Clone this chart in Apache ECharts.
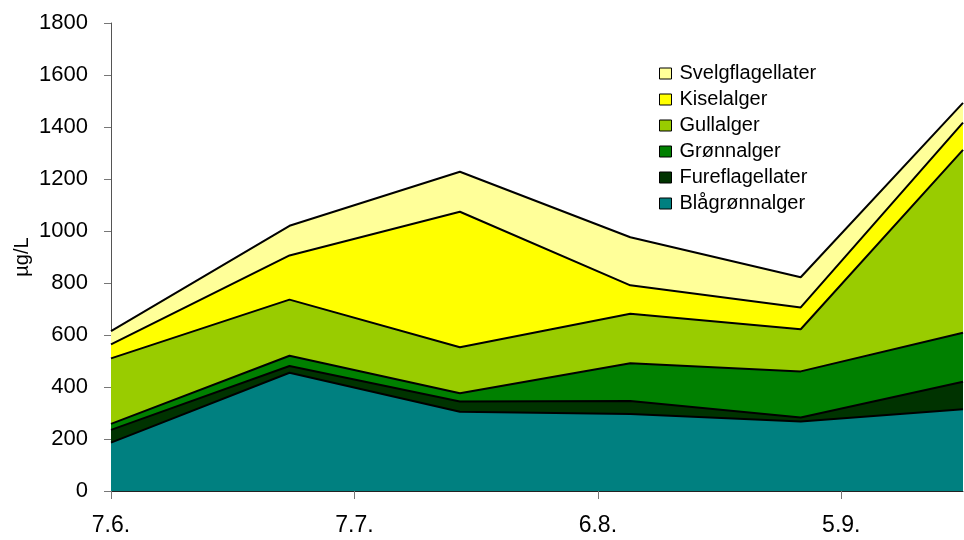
<!DOCTYPE html>
<html>
<head>
<meta charset="utf-8">
<script src="https://cdn.jsdelivr.net/npm/echarts@6/dist/echarts.min.js"></script>
<style>
html,body{margin:0;padding:0;background:#fff;}
#chart{width:964px;height:540px;}
</style>
</head>
<body>
<div id="chart"></div>
<script>
// Days since 7.6. for each sampling date
const dayOffsets = [0, 22, 43, 64, 85, 105];
const xTickValues = [0, 30, 60, 90];
const xTickLabels = ['7.6.', '7.7.', '6.8.', '5.9.'];

const seriesNames = ['Blågrønnalger', 'Fureflagellater', 'Grønnalger', 'Gullalger', 'Kiselalger', 'Svelgflagellater'];
const blaagronnalger   = [186, 455, 305, 296, 267, 314];
const fureflagellater  = [49, 26, 39, 50, 16, 106];
const gronnalger       = [23, 39, 32, 145, 177, 189];
const gullalger        = [252, 216, 177, 191, 162, 703];
const kiselalger       = [54, 170, 521, 109, 84, 105];
const svelgflagellater = [51, 114, 154, 185, 116, 76];
const seriesValues = [blaagronnalger, fureflagellater, gronnalger, gullalger, kiselalger, svelgflagellater];
const seriesColors = ['#008080', '#003300', '#008000', '#99CC00', '#FFFF00', '#FFFF99'];

const chart = echarts.init(document.getElementById('chart'));
const font = 'Liberation Sans, Arial, sans-serif';

// value stored first so the stack is computed on the value (y) dimension
const series = seriesNames.map((name, i) => ({
  name: name,
  type: 'line',
  stack: 'total',
  symbol: 'none',
  animation: false,
  dimensions: ['amount', 'day'],
  encode: { x: 'day', y: 'amount' },
  data: dayOffsets.map((d, j) => [seriesValues[i][j], d]),
  lineStyle: { color: '#000', width: 2 },
  itemStyle: { color: seriesColors[i] },
  areaStyle: { color: seriesColors[i], opacity: 1 },
  z: 2
}));

chart.setOption({
  animation: false,
  backgroundColor: '#fff',
  grid: { left: 111, right: 1, top: 23, bottom: 49 },
  legend: {
    orient: 'vertical',
    left: 654,
    top: 58,
    data: seriesNames.slice().reverse(),
    icon: 'rect',
    itemWidth: 12,
    itemHeight: 11,
    itemGap: 5,
    itemStyle: { borderColor: '#000', borderWidth: 1 },
    textStyle: { fontFamily: font, fontSize: 20, color: '#000', lineHeight: 21, padding: [0, 0, 0, 3] }
  },
  xAxis: {
    type: 'value',
    min: 0,
    max: 105,
    interval: 30,
    splitLine: { show: false },
    axisLine: { show: true, lineStyle: { color: '#222', width: 1 } },
    axisTick: { show: true, customValues: xTickValues, length: 8, lineStyle: { color: '#777' } },
    axisLabel: {
      customValues: xTickValues,
      formatter: v => { const k = xTickValues.indexOf(v); return k >= 0 ? xTickLabels[k] : ''; },
      fontFamily: font, fontSize: 23, color: '#000', margin: 23
    }
  },
  yAxis: {
    type: 'value',
    min: 0,
    max: 1800,
    interval: 200,
    name: 'µg/L',
    nameLocation: 'middle',
    nameRotate: 90,
    nameGap: 79,
    nameMoveOverlap: false,
    nameTextStyle: { fontFamily: font, fontSize: 20, color: '#000' },
    splitLine: { show: false },
    axisLine: { show: true, lineStyle: { color: '#555', width: 1 } },
    axisTick: { show: true, length: 7, lineStyle: { color: '#777' } },
    axisLabel: { fontFamily: font, fontSize: 22, color: '#000', margin: 23, formatter: v => String(v) }
  },
  series: series
});
</script>
</body>
</html>
